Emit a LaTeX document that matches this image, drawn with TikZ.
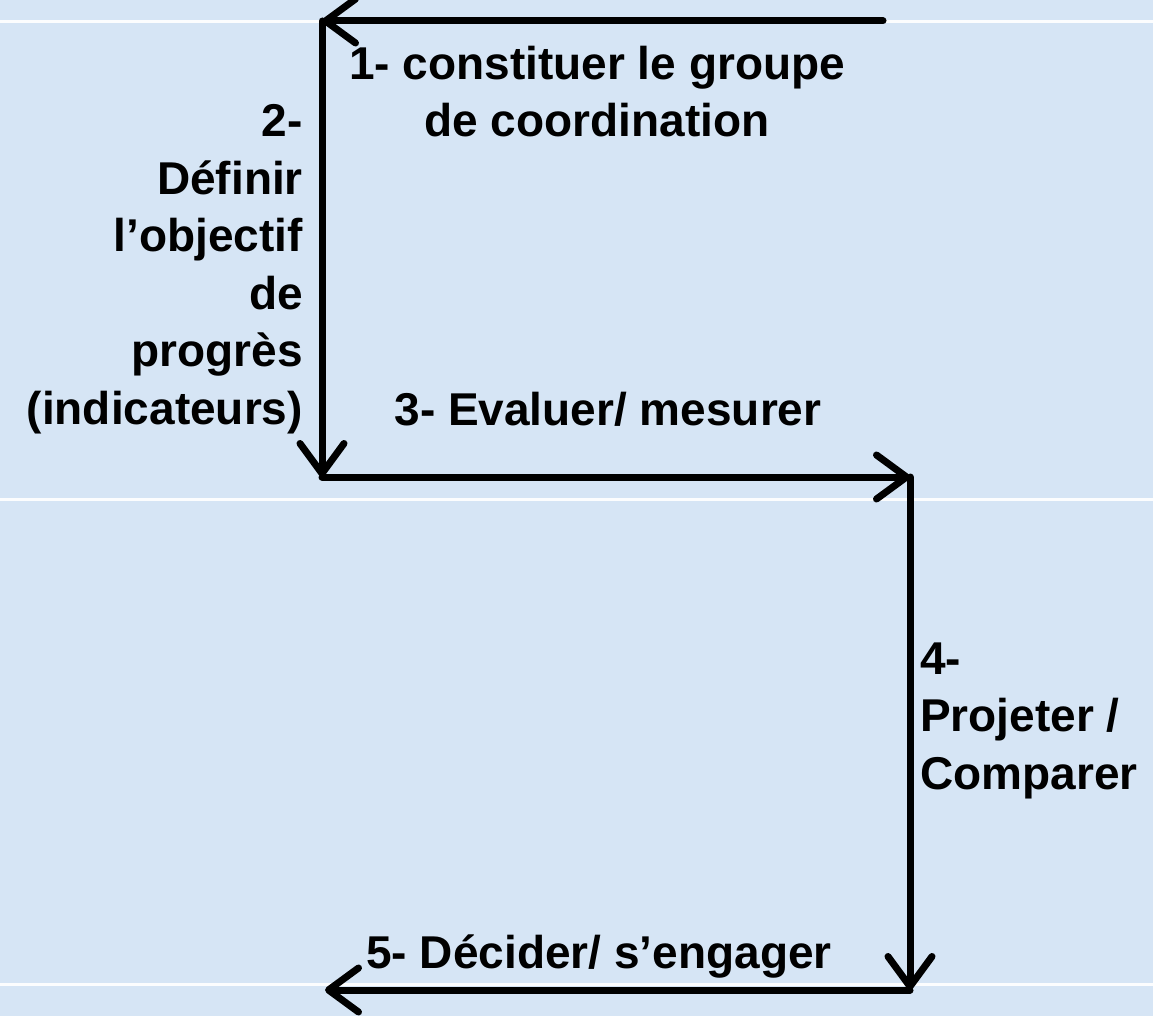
\documentclass[tikz,border=0pt]{standalone}
\usepackage{fontspec}
\setmainfont{Liberation Sans}
\usetikzlibrary{arrows.meta, positioning}
\definecolor{bgblue}{RGB}{214,229,245}
\begin{document}
\begin{tikzpicture}[x=1pt, y=-1pt]
        \tikzstyle{steptext} = [inner sep = 0pt, font = \fontsize{46}{57.5}\selectfont\bfseries, text = black]
        \tikzstyle{connect} = [-{Straight Barb[length = 30pt, width = 44pt, round]}, line width = 7pt, line cap = round, black]
        \tikzstyle{rule} = [line width = 3pt, white!92!bgblue]
        \useasboundingbox (0,0) rectangle (1153,1016);
        \fill[bgblue] (0,0) rectangle (1153,1016);
        \draw[rule] (0,22) -- (1153,22);
        \draw[rule] (0,499) -- (1153,499);
        \draw[rule] (0,984) -- (1153,984);
        \coordinate (start) at (883,21);
        \coordinate (tl) at (322,21);
        \coordinate (ml) at (322,477);
        \coordinate (mr) at (910,477);
        \coordinate (br) at (910,990);
        \coordinate (bl) at (325,990);
        \path (start) edge [connect] (tl) (tl) edge [connect] (ml) (ml) edge [connect] (mr) (mr) edge [connect] (br) (br) edge [connect] (bl);
        \node[steptext, align = center, anchor = base] (s1) at (597,137) {1- constituer le groupe\\de coordination};
        \node[steptext, align = right, anchor = base east] (s2) at (303,424) {2-\\Définir\\l’objectif\\de\\progrès\\(indicateurs)};
        \node[steptext, anchor = base] (s3) at (608,425) {3- Evaluer/ mesurer};
        \node[steptext, align = left, anchor = base west] (s4) at (920,789) {4-\\Projeter /\\Comparer};
        \node[steptext, anchor = base] (s5) at (599,968) {5- Décider/ s’engager};
      \end{tikzpicture}
\end{document}
